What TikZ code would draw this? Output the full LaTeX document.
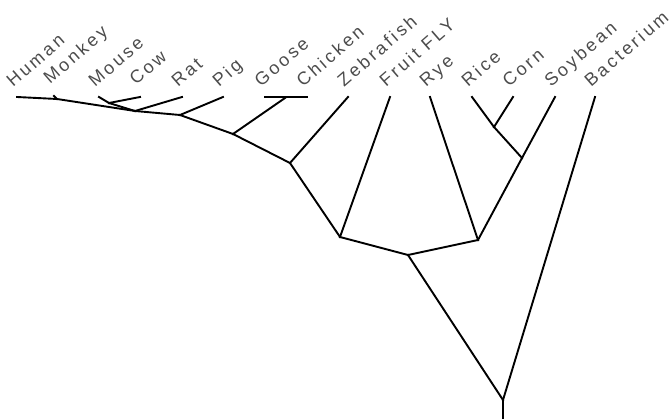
\documentclass[tikz,border=0pt]{standalone}
\usepackage{fontspec}
\newfontfamily\lblfont[LetterSpace=16]{Liberation Sans}
\begin{document}
\begin{tikzpicture}[x=1pt,y=-1pt,
  edge/.style={line width=1.9pt,line cap=rect},
  taxon/.style={rotate=41,anchor=base west,inner sep=0pt,
    font=\lblfont\fontsize{18pt}{20pt}\selectfont,text=black!70}]
\useasboundingbox (0,0) rectangle (672,419);
% leaves
\coordinate (human) at (17,97);
\coordinate (monkey) at (54,96);
\coordinate (mouse) at (99,97);
\coordinate (cow) at (140,97);
\coordinate (rat) at (182,97);
\coordinate (pig) at (223,97);
\coordinate (goose) at (265,97);
\coordinate (chicken) at (307,97);
\coordinate (zebrafish) at (348,97);
\coordinate (fruitfly) at (390,97);
\coordinate (rye) at (430,97);
\coordinate (rice) at (472,97);
\coordinate (corn) at (513,97);
\coordinate (soybean) at (555,97);
\coordinate (bacterium) at (595,97);
% internal nodes
\coordinate (hm) at (57,99);
\coordinate (mc) at (109,103);
\coordinate (x) at (135,111);
\coordinate (p) at (180,115);
\coordinate (gc) at (285,98);
\coordinate (a) at (233,134);
\coordinate (b) at (290,163);
\coordinate (c) at (340,237);
\coordinate (rc) at (494,127);
\coordinate (s) at (522,158);
\coordinate (e) at (478,240);
\coordinate (d) at (408,255);
\coordinate (root) at (503,400);
\coordinate (base) at (503,419);
% edges
\draw[edge] (human) -- (hm);
\draw[edge] (monkey) -- (hm);
\draw[edge] (hm) -- (x);
\draw[edge] (mouse) -- (mc);
\draw[edge] (cow) -- (mc);
\draw[edge] (mc) -- (x);
\draw[edge] (rat) -- (x);
\draw[edge] (x) -- (p);
\draw[edge] (pig) -- (p);
\draw[edge] (p) -- (a);
\draw[edge] (goose) -- (chicken);
\draw[edge] (gc) -- (a);
\draw[edge] (a) -- (b);
\draw[edge] (zebrafish) -- (b);
\draw[edge] (b) -- (c);
\draw[edge] (fruitfly) -- (c);
\draw[edge] (c) -- (d);
\draw[edge] (rice) -- (rc);
\draw[edge] (corn) -- (rc);
\draw[edge] (rc) -- (s);
\draw[edge] (soybean) -- (s);
\draw[edge] (s) -- (e);
\draw[edge] (rye) -- (e);
\draw[edge] (e) -- (d);
\draw[edge] (d) -- (root);
\draw[edge] (bacterium) -- (root);
\draw[edge,line cap=butt] (root) -- (base);
% labels
\node[taxon] (lhuman) at ([shift={(-4,-9)}]human) {Human};
\node[taxon] (lmonkey) at ([shift={(-4,-11)}]monkey) {Monkey};
\node[taxon] (lmouse) at ([shift={(-4,-9)}]mouse) {Mouse};
\node[taxon] (lcow) at ([shift={(-4,-11)}]cow) {Cow};
\node[taxon] (lrat) at ([shift={(-4,-9)}]rat) {Rat};
\node[taxon] (lpig) at ([shift={(-4,-9)}]pig) {Pig};
\node[taxon] (lgoose) at ([shift={(-4,-9)}]goose) {Goose};
\node[taxon] (lchicken) at ([shift={(-4,-9)}]chicken) {Chicken};
\node[taxon] (lzebrafish) at ([shift={(-4,-9)}]zebrafish) {Zebrafish};
\node[taxon] (lfruitfly) at ([shift={(-4,-9)}]fruitfly) {Fruit FLY};
\node[taxon] (lrye) at ([shift={(-4,-9)}]rye) {Rye};
\node[taxon] (lrice) at ([shift={(-4,-9)}]rice) {Rice};
\node[taxon] (lcorn) at ([shift={(-4,-9)}]corn) {Corn};
\node[taxon] (lsoybean) at ([shift={(-4,-9)}]soybean) {Soybean};
\node[taxon] (lbacterium) at ([shift={(-4,-9)}]bacterium) {Bacterium};
\end{tikzpicture}
\end{document}
